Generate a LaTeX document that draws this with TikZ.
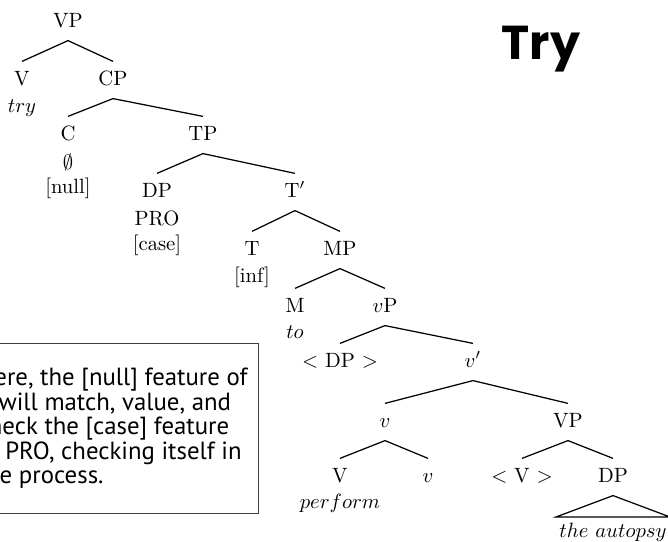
\documentclass[tikz,border=0pt]{standalone}
\usepackage{fontspec}
\newfontfamily\notefont{PT Sans}
\newfontfamily\titlefont{Poppins}
\begin{document}
\begin{tikzpicture}[
        x=0.017cm,
        y=-0.017cm,
        font=\normalsize
    ]
    \tikzset{
        tnode/.style = {inner sep=0pt, outer sep=4.5pt, text height=7pt, text depth=2pt},
        lexnode/.style = {inner sep=0pt},
        branch/.style = {-, line width=0.6pt},
        notebox/.style = {draw=black!75, line width=0.5pt, align=left, anchor=north east,
            minimum height=82pt, inner xsep=5.3pt,
            font=\notefont\fontsize{12}{11.85}\selectfont},
        titletext/.style = {font=\titlefont\bfseries\fontsize{23}{27}\selectfont},
    }
        \useasboundingbox (0,0) rectangle (668,542);
        \clip (0,0) rectangle (668,542);
        %
        \node[titletext] at (541,49) (title) {Try};
        %
        \node[tnode] at (68,22) (vp) {VP};
        \node[tnode] at (22,80) (v) {V};
        \node[lexnode] at (22,108) (try) {$try$};
        \node[tnode] at (113,80) (cp) {CP};
        \node[tnode] at (68,135) (c) {C};
        \node[lexnode] at (68,162) (cnull) {$\emptyset$};
        \node[lexnode] at (68,188) (cfeat) {[null]};
        \node[tnode] at (203,135) (tp) {TP};
        \node[tnode] at (157,192) (dp) {DP};
        \node[lexnode] at (157,218) (pro) {PRO};
        \node[lexnode] at (157,245) (dpfeat) {[case]};
        \node[tnode] at (295,192) (tbar) {T$'$};
        \node[tnode] at (252,250) (t) {T};
        \node[lexnode] at (252,277) (tfeat) {[inf]};
        \node[tnode] at (340,250) (mp) {MP};
        \node[tnode] at (295,307) (m) {M};
        \node[lexnode] at (295,332) (to) {$to$};
        \node[tnode] at (385,307) (vsp) {$v$P};
        \node[tnode] at (340,362) (dptr) {$<$ DP $>$};
        \node[tnode] at (473,362) (vbar) {$v'$};
        \node[tnode] at (385,422) (vs) {$v$};
        \node[tnode] at (568,422) (vpb) {VP};
        \node[tnode] at (340,477) (vb) {V};
        \node[lexnode] at (340,503) (perform) {$perform$};
        \node[tnode] at (428,477) (vsb) {$v$};
        \node[tnode] at (522,477) (vtr) {$<$ V $>$};
        \node[tnode] at (613,477) (dpb) {DP};
        \node[lexnode] at (613,532) (autopsy) {$the\ autopsy$};
        \coordinate (tril) at (556,517);
        \coordinate (trir) at (670,517);
        %
        \draw[branch] (vp.south) edge (v.north) edge (cp.north);
        \draw[branch] (cp.south) edge (c.north) edge (tp.north);
        \draw[branch] (tp.south) edge (dp.north) edge (tbar.north);
        \draw[branch] (tbar.south) edge (t.north) edge (mp.north);
        \draw[branch] (mp.south) edge (m.north) edge (vsp.north);
        \draw[branch] (vsp.south) edge (dptr.north) edge (vbar.north);
        \draw[branch] (vbar.south) edge (vs.north) edge (vpb.north);
        \draw[branch] (vs.south) edge (vb.north) edge (vsb.north);
        \draw[branch] (vpb.south) edge (vtr.north) edge (dpb.north);
        \draw[branch] (dpb.south) -- (tril) -- (trir) -- cycle;
        %
        \node[notebox] at (259,343) (note) {Here, the [null] feature of\\
            C will match, value, and\\
            check the [case] feature\\
            of PRO, checking itself in\\
            the process.};
    \end{tikzpicture}
\end{document}
